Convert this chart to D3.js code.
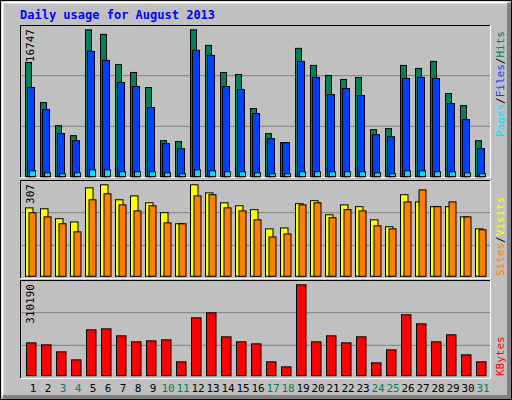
<!DOCTYPE html>
<html>
<head>
<script src="https://cdnjs.cloudflare.com/ajax/libs/d3/7.8.5/d3.min.js"></script>
<style>
  body { margin: 0; background: #fff; }
  text { font-family: "DejaVu Sans Mono", "Liberation Mono", monospace; }
</style>
</head>
<body>
<div id="chart"></div>
<script>
// Data
const days = d3.range(1, 32);
const weekend = [3, 4, 10, 11, 17, 18, 24, 25, 31];
const hits = [13040, 8480, 5860, 4720, 16747, 16230, 12810, 11900, 10190, 4150, 4040, 16747, 14980, 11900, 11670, 7800,
              4950, 3920, 14640, 12700, 11560, 11100, 11330, 5400, 5520, 12700, 12360, 13160, 9510, 8140, 4150];
const files = [10190, 7680, 4950, 4150, 14300, 13270, 10760, 10300, 7910, 3810, 3240, 14410, 13840, 10300, 9960, 7230,
               4380, 3920, 13160, 11330, 9390, 10080, 9280, 4830, 4600, 11220, 11330, 11220, 8370, 6540, 3240];
const pages = [730, 500, 390, 500, 840, 840, 620, 620, 620, 500, 390, 840, 730, 620, 620, 500,
               390, 390, 620, 620, 620, 620, 620, 500, 390, 730, 730, 620, 620, 500, 390];
const sites = [230, 227, 194, 183, 297, 307, 257, 270, 247, 214, 177, 307, 280, 247, 237, 224,
               160, 163, 244, 254, 207, 240, 234, 190, 167, 274, 250, 234, 234, 200, 160];
const visits = [214, 200, 177, 150, 257, 277, 240, 220, 237, 180, 177, 270, 274, 230, 220, 190,
                133, 143, 240, 247, 197, 224, 220, 170, 160, 250, 290, 234, 250, 200, 157];
const kbytes = [113200, 106400, 82600, 55500, 157300, 160700, 137000, 116600, 120000, 123400, 48700, 198100, 215100, 133600, 116600, 109800,
                48700, 31700, 310190, 116600, 137000, 113200, 133600, 45300, 89400, 208300, 177700, 116600, 140400, 72400, 48700];

const W = 512, H = 400;
const svg = d3.select("#chart").append("svg").attr("width", W).attr("height", H);

// background + bevel
svg.append("rect").attr("width", W).attr("height", H).attr("fill", "#c0c0c0");
svg.append("rect").attr("x", 0.5).attr("y", 0.5).attr("width", W - 1).attr("height", H - 1)
  .attr("fill", "none").attr("stroke", "#000");
svg.append("path").attr("d", `M2.5,${H - 4} V2.5 H${W - 4}`).attr("stroke", "#fff").attr("stroke-width", 2).attr("fill", "none");
svg.append("path").attr("d", `M${W - 3},3 V${H - 3} H3`).attr("stroke", "#808080").attr("stroke-width", 4).attr("fill", "none");

svg.append("text").attr("x", 20).attr("y", 19).attr("fill", "#0000ff")
  .style("font-size", "12px").style("font-weight", "bold").text("Daily usage for August 2013");

const x = d3.scaleBand().domain(days).range([25, 490]).paddingInner(0);
// x.bandwidth() is 15, matches the day spacing

const panels = [
  { top: 25, bottom: 177, base: 176.7, peak: 29.3, max: 16747 },
  { top: 180, bottom: 278, base: 276.3, peak: 184.3, max: 307 },
  { top: 280, bottom: 378, base: 375.7, peak: 284.3, max: 310190 }
];

panels.forEach(p => {
  p.y = d3.scaleLinear().domain([0, p.max]).range([p.base, p.peak]);
  const g = svg.append("g");
  // grid lines at thirds
  [1, 2].forEach(i => {
    const gy = p.top + (p.bottom - p.top) * i / 3;
    g.append("line").attr("x1", 21).attr("x2", 490).attr("y1", gy).attr("y2", gy)
      .attr("stroke", "#808080").attr("stroke-width", 1);
  });
  g.append("path").attr("d", `M20.5,${p.bottom} V${p.top + 0.5} H490.5`).attr("stroke", "#000").attr("fill", "none");
  g.append("path").attr("d", `M490.5,${p.top} V${p.bottom + 0.5} H20.5`).attr("stroke", "#fff").attr("fill", "none");
  svg.append("text").attr("transform", `translate(34,${p.top + 4}) rotate(-90)`)
    .attr("text-anchor", "end").style("font-size", "11px").attr("fill", "#000").text(p.max);
});

function bars(series, panel, off, w, color) {
  svg.append("g").selectAll("rect").data(series).join("rect")
    .attr("x", (d, i) => x(days[i]) + off + 0.5)
    .attr("width", w - 1)
    .attr("y", d => panel.y(d) + 0.5)
    .attr("height", d => Math.max(0, panel.base - panel.y(d) - 0.5))
    .attr("fill", color).attr("stroke", "#000").attr("stroke-width", 1);
}

bars(hits, panels[0], 0, 7, "#00805c");
bars(files, panels[0], 2, 8, "#0040ff");
bars(pages, panels[0], 4, 7, "#00e0ff");
bars(sites, panels[1], 0, 8.5, "#ffff00");
bars(visits, panels[1], 3.5, 8, "#ff8000");
bars(kbytes, panels[2], 1, 10.5, "#ff0000");

// day labels
svg.append("g").selectAll("text").data(days).join("text")
  .attr("x", d => x(d) + 8).attr("y", 392).attr("text-anchor", "middle")
  .style("font-size", "11px")
  .attr("fill", d => weekend.includes(d) ? "#00805c" : "#000")
  .text(d => d);

// right legends (rotated)
function legend(parts, yBottom) {
  const t = svg.append("text").attr("transform", `translate(504,${yBottom}) rotate(-90)`)
    .style("font-size", "11px");
  parts.forEach(([s, c]) => t.append("tspan").attr("fill", c).text(s));
}
legend([["Pages", "#00e0ff"], ["/", "#000"], ["Files", "#0040ff"], ["/", "#000"], ["Hits", "#00805c"]], 137);
legend([["Sites", "#ff8000"], ["/", "#000"], ["Visits", "#ffff00"]], 276);
legend([["KBytes", "#ff0000"]], 376);
</script>
</body>
</html>
